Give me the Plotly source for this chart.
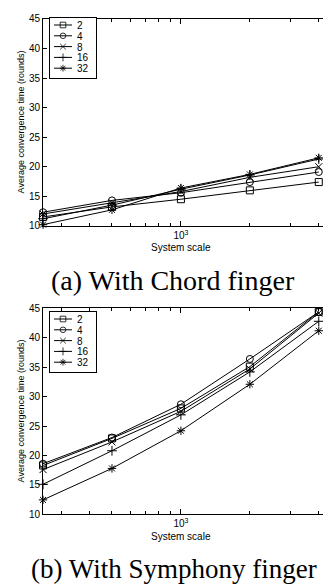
import plotly.graph_objects as go
import math

# ---- data ----
scales = [250, 500, 1000, 2000, 4000]
series_names = ["2", "4", "8", "16", "32"]

chord_2 = [11.5, 13.2, 14.5, 16.0, 17.4]
chord_4 = [12.3, 14.3, 15.6, 17.4, 19.1]
chord_8 = [12.0, 13.9, 15.8, 18.2, 20.0]
chord_16 = [11.2, 13.5, 16.2, 18.6, 21.3]
chord_32 = [10.2, 12.7, 16.4, 18.7, 21.5]

sym_2 = [18.3, 22.9, 28.0, 35.1, 44.4]
sym_4 = [18.6, 23.05, 28.7, 36.4, 44.4]
sym_8 = [17.6, 22.3, 27.5, 34.7, 44.2]
sym_16 = [15.1, 20.8, 26.9, 34.2, 42.8]
sym_32 = [12.45, 17.8, 24.2, 32.1, 41.2]

yticks = [10, 15, 20, 25, 30, 35, 40, 45]
xmajor = [1000]
xmajor_text = ["10<sup>3</sup>"]
xminor = [300, 400, 500, 600, 700, 800, 900, 2000, 3000, 4000, 5000]

chord = [chord_2, chord_4, chord_8, chord_16, chord_32]
symph = [sym_2, sym_4, sym_8, sym_16, sym_32]
symbols = ["square-open", "circle-open", "x-thin-open", "cross-thin-open", "asterisk-open"]

W, H = 331, 586
fig = go.Figure()

for i, name in enumerate(series_names):
    fig.add_trace(go.Scatter(x=scales, y=chord[i], name=name, mode="lines+markers",
                             cliponaxis=False,
                             line=dict(color="black", width=1),
                             marker=dict(symbol=symbols[i], size=7, color="black",
                                         line=dict(color="black", width=1)),
                             xaxis="x", yaxis="y", legend="legend"))
for i, name in enumerate(series_names):
    fig.add_trace(go.Scatter(x=scales, y=symph[i], name=name, mode="lines+markers",
                             cliponaxis=False,
                             line=dict(color="black", width=1),
                             marker=dict(symbol=symbols[i], size=7, color="black",
                                         line=dict(color="black", width=1)),
                             xaxis="x2", yaxis="y2", legend="legend2"))

x0 = 35 / W
lo = math.log10(249.9)
xr = [lo, lo + 296 / 229]
top_dom = [1 - 216 / H, 1 - 5 / H]
bot_dom = [1 - 510 / H, 1 - 300 / H]

font = dict(family="Liberation Sans, Arial", size=10, color="black")

def xax(anchor):
    return dict(type="log", range=xr, domain=[x0, 1], anchor=anchor,
                showgrid=False, zeroline=False, showline=True, linecolor="black",
                linewidth=1, mirror="ticks", ticks="inside", ticklen=5,
                tickcolor="black", tickvals=xmajor, ticktext=xmajor_text,
                tickfont=font,
                minor=dict(tickvals=xminor, ticks="inside", ticklen=3, tickcolor="black"))

def yax(anchor, dom):
    return dict(range=[9.98, 45], domain=dom, anchor=anchor, showgrid=False,
                zeroline=False, showline=True, linecolor="black", linewidth=1,
                ticks="inside", ticklen=4, tickcolor="black", tickvals=yticks,
                tickfont=font)

legend_common = dict(bgcolor="white", bordercolor="black", borderwidth=1,
                     font=font, itemwidth=30, tracegroupgap=0,
                     xanchor="left", yanchor="top")

title_font = dict(family="Liberation Sans, Arial", size=9, color="black")
cap_font_a = dict(family="Liberation Serif, Times New Roman", size=28, color="black")
cap_font_b = dict(family="Liberation Serif, Times New Roman", size=27, color="black")

fig.update_layout(
    width=W, height=H, margin=dict(l=0, r=0, t=0, b=0),
    paper_bgcolor="white", plot_bgcolor="white",
    xaxis=xax("y"), yaxis=yax("x", top_dom),
    xaxis2=xax("y2"), yaxis2=yax("x2", bot_dom),
    legend=dict(x=41 / W, y=1 - 9 / H, **legend_common),
    legend2=dict(x=41 / W, y=1 - 303 / H, **legend_common),
    annotations=[
        dict(text="System scale", x=173 / W, y=1 - 238 / H, xref="paper", yref="paper",
             showarrow=False, font=font, xanchor="center", yanchor="middle"),
        dict(text="System scale", x=173 / W, y=1 - 533 / H, xref="paper", yref="paper",
             showarrow=False, font=font, xanchor="center", yanchor="middle"),
        dict(text="Average convergence time (rounds)", x=13 / W, y=(top_dom[0] + top_dom[1]) / 2,
             xref="paper", yref="paper", showarrow=False, textangle=-90,
             font=title_font, xanchor="center", yanchor="middle"),
        dict(text="Average convergence time (rounds)", x=13 / W, y=(bot_dom[0] + bot_dom[1]) / 2,
             xref="paper", yref="paper", showarrow=False, textangle=-90,
             font=title_font, xanchor="center", yanchor="middle"),
        dict(text="(a) With Chord finger", x=165 / W, y=1 - 272 / H, xref="paper", yref="paper",
             showarrow=False, font=cap_font_a, xanchor="center", yanchor="middle"),
        dict(text="(b) With Symphony finger", x=166 / W, y=1 - 566 / H, xref="paper", yref="paper",
             showarrow=False, font=cap_font_b, xanchor="center", yanchor="middle"),
    ],
)

# compact the legends (MATLAB-style tight entries)
post = """
var gd = document.getElementById('{plot_id}');
var legendPos = {'legend': [41, 9], 'legend2': [41, 303]};
function fixLegends(){
  Object.keys(legendPos).forEach(function(cls){
    var lg = gd.querySelector('g.' + cls);
    if (!lg) return;
    lg.setAttribute('transform', 'translate(' + legendPos[cls][0] + ',' + legendPos[cls][1] + ')');
    var sb = lg.querySelector('g.scrollbox');
    if (sb) { sb.setAttribute('transform', 'translate(0,0)'); }
    var traces = lg.querySelectorAll('g.traces');
    traces.forEach(function(t, i){
      t.setAttribute('transform', 'translate(0,' + (8 + i * 10.8) + ')');
      t.querySelectorAll('path.js-line').forEach(function(p){ p.setAttribute('d', 'M5,0h18'); });
      t.querySelectorAll('path.scatterpts').forEach(function(p){
        p.setAttribute('transform', 'translate(14,0) scale(0.8)');
      });
      t.querySelectorAll('text').forEach(function(txt){
        txt.setAttribute('x', 28);
        txt.querySelectorAll('tspan').forEach(function(ts){ if (ts.hasAttribute('x')) ts.setAttribute('x', 28); });
      });
      t.querySelectorAll('rect').forEach(function(r){
        r.setAttribute('height', 10); r.setAttribute('y', -5); r.setAttribute('width', 46);
      });
    });
    Array.prototype.forEach.call(lg.children, function(ch){
      if (ch.tagName.toLowerCase() === 'rect' && (ch.getAttribute('class') || '').indexOf('bg') >= 0) {
        ch.setAttribute('width', 47); ch.setAttribute('height', 61);
        ch.setAttribute('x', 0.5); ch.setAttribute('y', 0.5);
      }
    });
  });
}
fixLegends();
if (gd.on) { gd.on('plotly_afterplot', fixLegends); }
setTimeout(fixLegends, 50);
setTimeout(fixLegends, 300);
"""

fig.write_html("out.html", post_script=post)
